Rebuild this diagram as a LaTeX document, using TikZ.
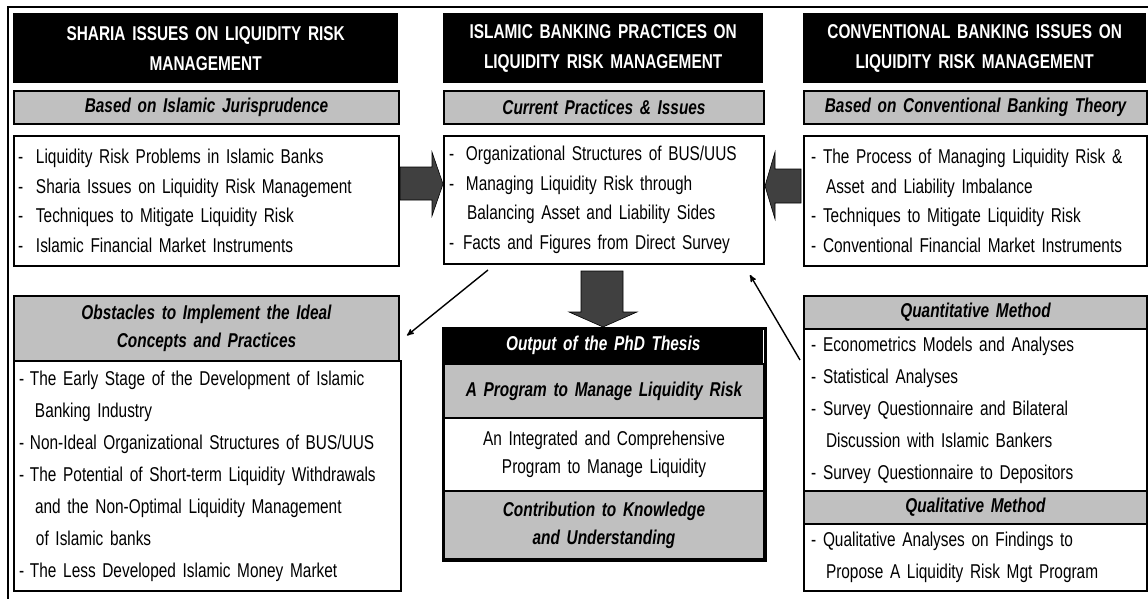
\documentclass[tikz,border=0pt]{standalone}
\usepackage{fontspec}
\setmainfont{Liberation Sans}[FakeStretch=0.77]
\usepackage{xcolor}
\usetikzlibrary{arrows}
\definecolor{boxgray}{HTML}{C0C0C0}
\definecolor{arrowgray}{HTML}{404040}
\newcommand{\itm}[2][18pt]{\makebox[#1][l]{-}#2}
\newcommand{\cnt}[2][18pt]{\hspace*{#1}#2}
\tikzset{
    tnode/.style = {align=left, inner sep=0pt, font=\fontsize{20}{29.5}\selectfont},
    lnode/.style = {font=\fontsize{20}{32}\selectfont},
    head_node/.style = {tnode, align=center, anchor=north west, fill=black, text=white, font=\fontsize{20}{30}\selectfont\bfseries},
    sub_node/.style = {tnode, align=center, anchor=north west, draw=black, fill=boxgray, line width=2pt, font=\fontsize{20}{28}\selectfont\bfseries\itshape},
    list_node/.style = {tnode, anchor=north west, draw=black, fill=white, line width=2pt, inner xsep=4pt},
    blk_arrow/.style = {draw=black, fill=arrowgray, line width=0.6pt},
    thin_arrow/.style = {->, line width=1.4pt}
}
\begin{document}
\begin{tikzpicture}[x=1pt, y=-1pt, >=stealth']
\useasboundingbox (0,0) rectangle (1148,599);
\draw[line width=2pt] (8,601) -- (8,7) -- (1150,7);

% left column
\node[head_node, text width=385pt, minimum height=70pt] (sharia_head) at (13,13)
    {SHARIA ISSUES ON LIQUIDITY RISK\\MANAGEMENT};
\node[sub_node, text width=385pt, minimum height=33pt] (sharia_sub) at (13,90)
    {Based on Islamic Jurisprudence};
\node[list_node, text width=377pt, minimum height=130pt] (sharia_list) at (13,135)
    {\itm{Liquidity Risk Problems in Islamic Banks}\\
     \itm{Sharia Issues on Liquidity Risk Management}\\
     \itm{Techniques to Mitigate Liquidity Risk}\\
     \itm{Islamic Financial Market Instruments}};
\node[sub_node, text width=385pt, minimum height=65pt] (obst_head) at (13,295)
    {Obstacles to Implement the Ideal\\Concepts and Practices};
\node[list_node, lnode, text width=377pt, minimum height=230pt, inner xsep=5pt] (obst_list) at (13,360)
    {\itm[11pt]{The Early Stage of the Development of Islamic}\\
     \cnt[16pt]{Banking Industry}\\
     \itm[11pt]{Non-Ideal Organizational Structures of BUS/UUS}\\
     \itm[11pt]{The Potential of Short-term Liquidity Withdrawals}\\
     \cnt[16pt]{and the Non-Optimal Liquidity Management}\\
     \cnt[17pt]{of Islamic banks}\\
     \itm[11pt]{The Less Developed Islamic Money Market}};

% middle column
\node[head_node, text width=320pt, minimum height=70pt] (mid_head) at (443,13)
    {ISLAMIC BANKING PRACTICES ON\\LIQUIDITY RISK MANAGEMENT};
\node[sub_node, text width=320pt, minimum height=33pt] (mid_sub) at (443,90)
    {Current Practices \& Issues};
\node[list_node, text width=310pt, minimum height=128pt, inner xsep=5pt] (mid_list) at (443,135)
    {\itm[17pt]{Organizational Structures of BUS/UUS}\\
     \itm[17pt]{Managing Liquidity Risk through}\\
     \cnt[18pt]{Balancing Asset and Liability Sides}\\
     \itm[14pt]{Facts and Figures from Direct Survey}};

\node[head_node, text width=320pt, minimum height=35pt, font=\fontsize{20}{28}\selectfont\bfseries\itshape] (out_head) at (443,328)
    {Output of the PhD Thesis};
\node[sub_node, text width=320pt, minimum height=54pt] (prog_node) at (443,363)
    {A Program to Manage Liquidity Risk};
\node[sub_node, fill=white, font=\fontsize{20}{28}\selectfont, text width=320pt, minimum height=73pt] (integ_node) at (443,417)
    {An Integrated and Comprehensive\\Program to Manage Liquidity};
\node[sub_node, text width=320pt, minimum height=68pt] (contrib_node) at (443,490)
    {Contribution to Knowledge\\and Understanding};
\draw[line width=3pt] (out_head.north west) rectangle (contrib_node.south east);

% right column
\node[head_node, text width=343pt, minimum height=70pt] (conv_head) at (803,13)
    {CONVENTIONAL BANKING ISSUES ON\\LIQUIDITY RISK MANAGEMENT};
\node[sub_node, text width=343pt, minimum height=33pt] (conv_sub) at (803,90)
    {Based on Conventional Banking Theory};
\node[list_node, text width=329pt, minimum height=130pt, inner xsep=7pt] (conv_list) at (803,135)
    {\itm[12pt]{The Process of Managing Liquidity Risk \&}\\
     \cnt[15pt]{Asset and Liability Imbalance}\\
     \itm[12pt]{Techniques to Mitigate Liquidity Risk}\\
     \itm[12pt]{Conventional Financial Market Instruments}};
\node[sub_node, text width=343pt, minimum height=33pt] (quant_head) at (803,295)
    {Quantitative Method};
\node[list_node, lnode, text width=329pt, minimum height=162pt, inner xsep=7pt] (quant_list) at (803,328)
    {\itm[12pt]{Econometrics Models and Analyses}\\
     \itm[12pt]{Statistical Analyses}\\
     \itm[12pt]{Survey Questionnaire and Bilateral}\\
     \cnt[15pt]{Discussion with Islamic Bankers}\\
     \itm[12pt]{Survey Questionnaire to Depositors}};
\node[sub_node, text width=343pt, minimum height=33pt] (qual_head) at (803,490)
    {Qualitative Method};
\node[list_node, lnode, text width=329pt, minimum height=67pt, inner xsep=7pt] (qual_list) at (803,523)
    {\itm[12pt]{Qualitative Analyses on Findings to}\\
     \cnt[15pt]{Propose A Liquidity Risk Mgt Program}};

% block arrows
\filldraw[blk_arrow] (400,167) -- (432,167) -- (432,152) -- (443,184) -- (432,216) -- (432,200) -- (400,200) -- cycle;
\filldraw[blk_arrow] (801,169) -- (775,169) -- (775,152) -- (765,186) -- (775,219) -- (775,203) -- (801,203) -- cycle;
\filldraw[blk_arrow] (581,271) -- (623,271) -- (623,312) -- (637,312) -- (603,327) -- (569,312) -- (581,312) -- cycle;

% thin arrows
\draw[thin_arrow] ([xshift=45pt,yshift=-5pt]mid_list.south west) -- ([xshift=7pt,yshift=-7pt]obst_head.east);
\draw[thin_arrow] ([xshift=-3pt,yshift=-32pt]quant_list.north west) -- ([xshift=-15pt,yshift=-10pt]mid_list.south east);
\end{tikzpicture}
\end{document}
